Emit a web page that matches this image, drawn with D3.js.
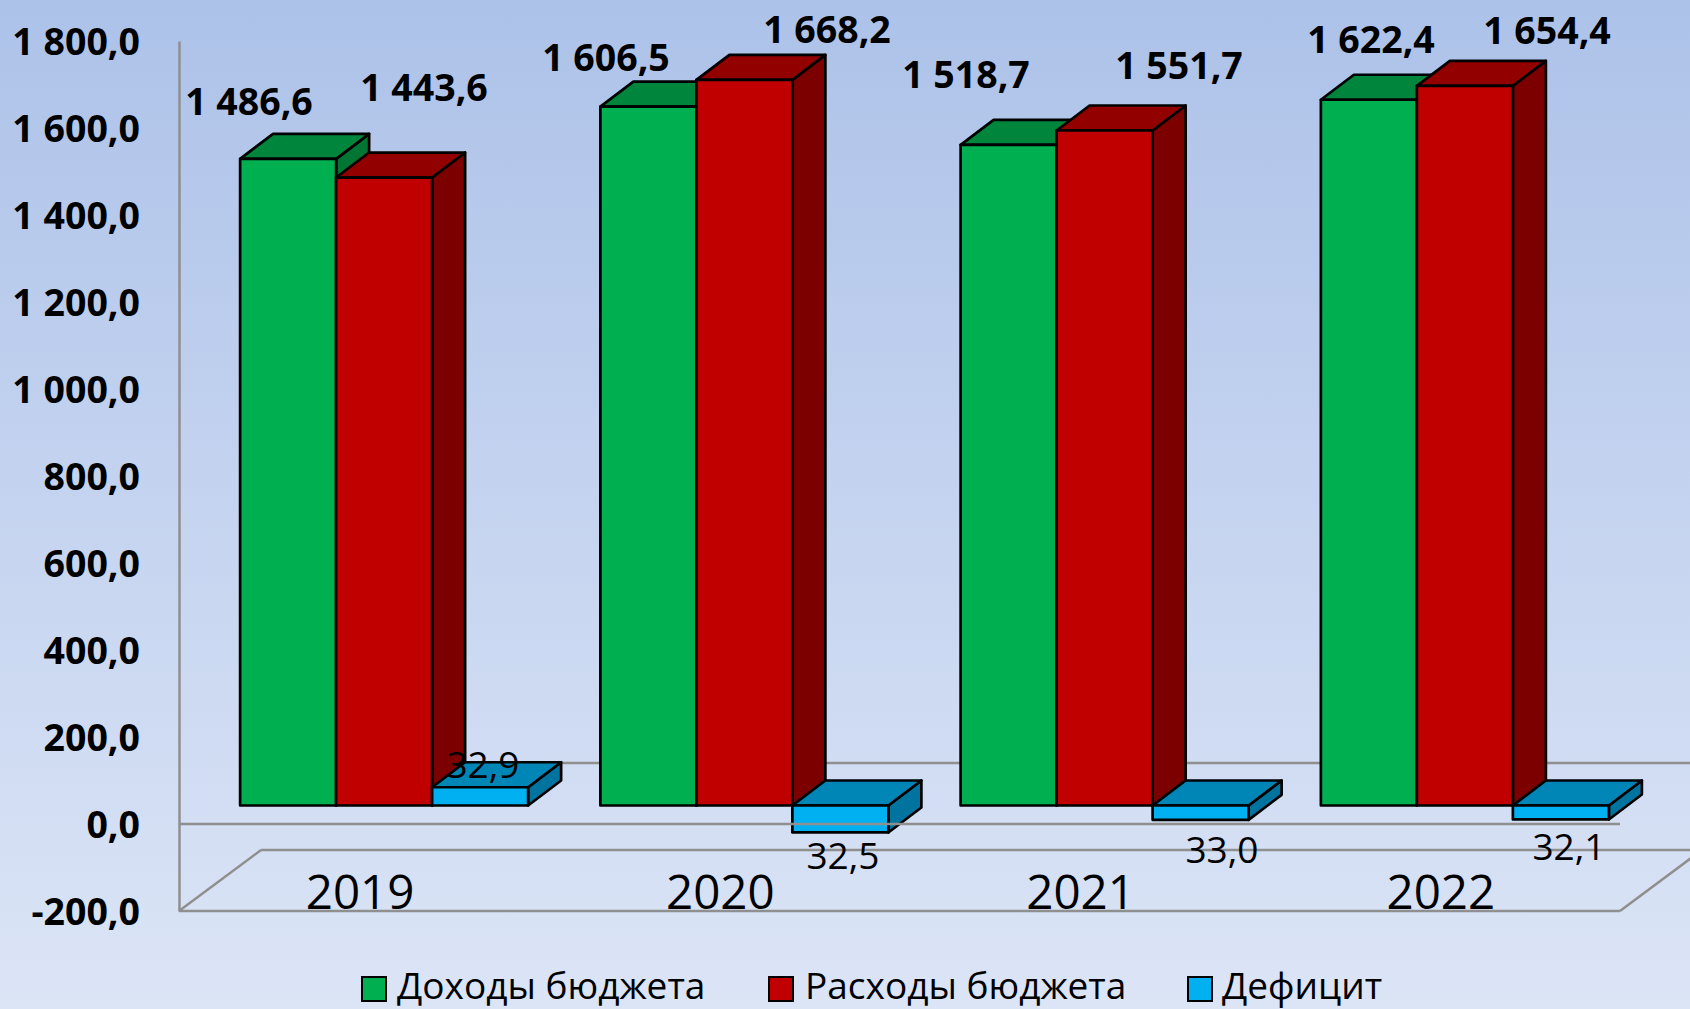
<!DOCTYPE html>
<html><head><meta charset="utf-8">
<script src="https://cdn.jsdelivr.net/npm/d3@7"></script>
<style>html,body{margin:0;padding:0;overflow:hidden}text{font-family:"Open Sans",sans-serif;fill:#000}</style>
</head><body><svg id="c" width="1690" height="1009"></svg>
<script>
const years = ["2019","2020","2021","2022"];
const seriesNames = ["Доходы бюджета","Расходы бюджета","Дефицит"];
const revenue = [1486.6,1606.5,1518.7,1622.4];
const expense = [1443.6,1668.2,1551.7,1654.4];
const deficitDrawn = [42,-62,-33,-32.1];
const deficitLabels = [32.9,32.5,33.0,32.1];
const axisTicks = [-200,0,200,400,600,800,1000,1200,1400,1600,1800];

const W=1690,H=1009,svg=d3.select("#c");
const defs=svg.append("defs");
const g=defs.append("linearGradient").attr("id","bg").attr("x1",0).attr("x2",0).attr("y1",0).attr("y2",1);
g.append("stop").attr("offset",0).attr("stop-color","#adc2e9");
g.append("stop").attr("offset",1).attr("stop-color","#dce5f6");
svg.append("rect").attr("width",W).attr("height",H).attr("fill","url(#bg)");

const y=d3.scaleLinear().domain([-200,1800]).range([911,41]);
const x=d3.scaleBand().domain(years).range([179,1620]);
const sub=d3.scaleBand().domain([0,1,2]).range([0,288]);
const wallD={dx:82,dy:-61}, barPlane={dx:26,dy:-18.5}, barD={dx:33,dy:-25};
const fmt=v=>{const s=v.toFixed(1).replace(".",",");const [a,b]=s.split(",");return a.replace(/\B(?=(\d{3})+$)/g," ")+","+b};

// walls
const wallStyle=s=>s.attr("stroke","#8f8f8f").attr("stroke-width",2.5).attr("fill","none");
const wall=svg.append("g").call(wallStyle);
const y0=y(0),yF=y(-200),xL=x.range()[0],xR=x.range()[1];
const seg=(gr,l)=>gr.append("line").attr("x1",l[0]).attr("y1",l[1]).attr("x2",l[2]).attr("y2",l[3]);
[[xL,yF,xL+wallD.dx,yF+wallD.dy],[xR,yF,xR+wallD.dx,yF+wallD.dy],
 [xL+wallD.dx,yF+wallD.dy,xR+wallD.dx,yF+wallD.dy],
 [xL+wallD.dx,y0+wallD.dy,xR+wallD.dx,y0+wallD.dy],
 [xL,yF,xR,yF]].forEach(l=>seg(wall,l));

// y axis
const ax=svg.append("g").attr("transform",`translate(${xL},0)`)
 .call(d3.axisLeft(y).tickValues(axisTicks).tickSize(0).tickPadding(39).tickFormat(fmt));
ax.select(".domain").attr("stroke","#8f8f8f").attr("stroke-width",2.5);
ax.selectAll("text").attr("font-size",37.5).attr("font-weight",700).attr("dy","0.35em");

function box(gr,x0,w,val,cols){
  const yb=y(0)+barPlane.dy, top=yb-(y(0)-y(val));
  const yt=Math.min(yb,top),yB=Math.max(yb,top),dx=barD.dx,dy=barD.dy;
  const p=a=>a.map(d=>d.join(",")).join(" ");
  gr.append("polygon").attr("points",p([[x0+w,yt],[x0+w+dx,yt+dy],[x0+w+dx,yB+dy],[x0+w,yB]])).attr("fill",cols[2]);
  gr.append("polygon").attr("points",p([[x0,yt],[x0+dx,yt+dy],[x0+w+dx,yt+dy],[x0+w,yt]])).attr("fill",cols[1]);
  gr.append("rect").attr("x",x0).attr("y",yt).attr("width",w).attr("height",yB-yt).attr("fill",cols[0]);
}
const palette=[["#00b050","#00863c","#007534"],["#c00000","#920000","#7c0000"],["#00b0f0","#0086b6","#00749f"]];
const series=[revenue,expense,deficitDrawn];
const marks=svg.append("g").attr("stroke","#000").attr("stroke-width",2.7).attr("stroke-linejoin","round");
years.forEach((yr,i)=>{
  const left=x(yr)+x.bandwidth()/2-sub.range()[1]/2+barPlane.dx-1;
  [0,1,2].forEach(s=>box(marks.append("g"),left+sub(s),sub.bandwidth(),series[s][i],palette[s]));
});
// front zero line runs over the bars
seg(svg.append("g").call(wallStyle),[xL,y0,xR,y0]);

// category labels
svg.append("g").selectAll("text").data(years).join("text")
 .attr("x",d=>x(d)+x.bandwidth()/2+1).attr("y",909).attr("text-anchor","middle").attr("font-size",47.5).text(d=>d);

// value labels (placed by hand in the original chart)
const big=[revenue,expense];
const labelCenters=[[249,102],[424,88],[606,58],[827,30],[966,75],[1179,66],[1371,40],[1547,31]];
years.forEach((yr,i)=>{
  [0,1].forEach(s=>{
    const c=labelCenters[i*2+s];
    svg.append("text").attr("x",c[0]).attr("y",c[1]).attr("dy","0.35em").attr("text-anchor","middle")
      .attr("font-size",37.5).attr("font-weight",700).text(fmt(big[s][i]));
  });
});
const defCenters=[[483,765],[843,856],[1222,850],[1569,847]];
deficitLabels.forEach((v,i)=>svg.append("text").attr("x",defCenters[i][0]).attr("y",defCenters[i][1]).attr("dy","0.35em")
  .attr("text-anchor","middle").attr("font-size",37).text(fmt(v)));

// legend
const lx=[362,769,1188],ltx=[397,805,1222];
seriesNames.forEach((n,i)=>{
  svg.append("rect").attr("x",lx[i]).attr("y",977).attr("width",24).attr("height",24).attr("fill",palette[i][0]).attr("stroke","#000").attr("stroke-width",2);
  svg.append("text").attr("x",ltx[i]).attr("y",999).attr("font-size",37).text(n);
});
</script></body></html>
